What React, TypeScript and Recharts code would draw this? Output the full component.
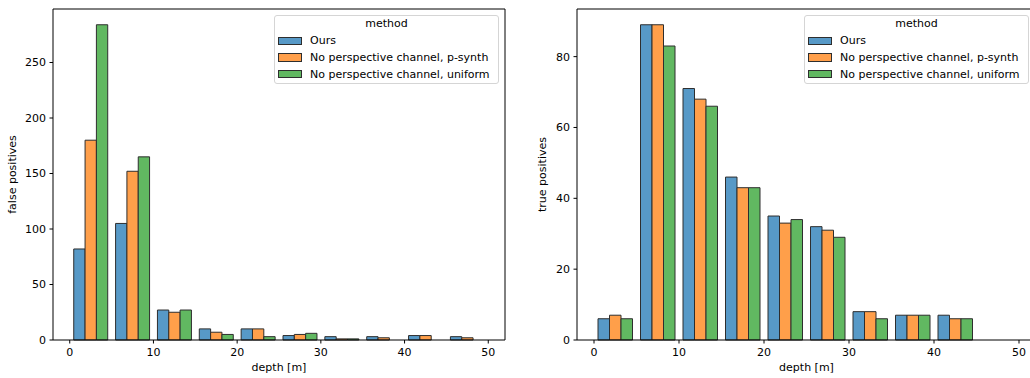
import React from "react";
import { ComposedChart, Bar, XAxis, YAxis, Legend } from "recharts";

const depthBins = [2.5, 7.5, 12.5, 17.5, 22.5, 27.5, 32.5, 37.5, 42.5, 47.5];
const methods = [
  "Ours",
  "No perspective channel, p-synth",
  "No perspective channel, uniform",
];

const fpOurs = [82, 105, 27, 10, 10, 4, 3, 3, 4, 3];
const fpPsynth = [180, 152, 25, 7, 10, 5, 1, 2, 4, 2];
const fpUniform = [284, 165, 27, 5, 3, 6, 1, 0, 0, 0];

const tpOurs = [6, 89, 71, 46, 35, 32, 8, 7, 7, 0];
const tpPsynth = [7, 89, 68, 43, 33, 31, 8, 7, 6, 0];
const tpUniform = [6, 83, 66, 43, 34, 29, 6, 7, 6, 0];

const xTicks = [0, 10, 20, 30, 40, 50];
const fpTicks = [0, 50, 100, 150, 200, 250];
const tpTicks = [0, 20, 40, 60, 80];

const COLORS = ["#5799c7", "#ff9f4a", "#61b861"];
const EDGE = "#2e2e2e";
const FONT = "DejaVu Sans, sans-serif";
const X_DOMAIN: [number, number] = [-2, 52];
const GROUP_WIDTH = 4.06; // depth units covered by one dodge group

function MethodLegend() {
  return (
    <div
      style={{
        boxSizing: "border-box",
        width: 225,
        height: 69,
        border: "1px solid #d5d5d5",
        borderRadius: 3,
        background: "rgba(255,255,255,0.8)",
        fontFamily: FONT,
        fontSize: 11,
        color: "#000",
      }}
    >
      <div style={{ height: 16.6, lineHeight: "16.6px", textAlign: "center" }}>
        method
      </div>
      {methods.map((m, i) => (
        <div
          key={m}
          style={{
            height: 16.6,
            display: "flex",
            alignItems: "center",
            paddingLeft: 3,
          }}
        >
          <span
            style={{
              boxSizing: "border-box",
              width: 24,
              height: 8.5,
              background: COLORS[i],
              border: `1px solid ${EDGE}`,
              marginRight: 8,
              flex: "none",
            }}
          />
          <span style={{ whiteSpace: "nowrap" }}>{m}</span>
        </div>
      ))}
    </div>
  );
}

interface PanelProps {
  series: number[][];
  yTicks: number[];
  yMax: number;
  yLabel: string;
  left: number;
  width: number;
  yAxisWidth: number;
  marginRight: number;
  legendLeft: number;
  labelGap: number;
}

function Panel({
  series,
  yTicks,
  yMax,
  yLabel,
  left,
  width,
  yAxisWidth,
  marginRight,
  legendLeft,
  labelGap,
}: PanelProps) {
  const data = depthBins.map((d, i) => ({
    depth: d,
    a: series[0][i],
    b: series[1][i],
    c: series[2][i],
  }));
  // 1px each for the top / right frame axes
  const plotWidth = width - yAxisWidth - marginRight - 1;
  const barSize =
    ((plotWidth / (X_DOMAIN[1] - X_DOMAIN[0])) * GROUP_WIDTH) / 3;

  const tick = { fontSize: 11, fill: "#000", fontFamily: FONT };

  const yLabelContent = (props: any) => {
    const vb = props.viewBox || {};
    const x = vb.x + vb.width - labelGap;
    const y = vb.y + vb.height / 2;
    return (
      <text
        x={x}
        y={y}
        transform={`rotate(-90 ${x} ${y})`}
        textAnchor="middle"
        fontSize={11}
        fontFamily={FONT}
        fill="#000"
      >
        {yLabel}
      </text>
    );
  };

  const xLabelContent = (props: any) => {
    const vb = props.viewBox || {};
    return (
      <text
        x={vb.x + vb.width / 2}
        y={vb.y + 31}
        textAnchor="middle"
        fontSize={11}
        fontFamily={FONT}
        fill="#000"
      >
        depth [m]
      </text>
    );
  };

  return (
    <div style={{ position: "absolute", left, top: 0 }}>
      <ComposedChart
        width={width}
        height={378}
        data={data}
        barGap={0}
        margin={{ top: 8, right: marginRight, bottom: 0, left: 0 }}
        style={{ fontFamily: FONT }}
      >
        <XAxis
          type="number"
          dataKey="depth"
          domain={X_DOMAIN}
          ticks={xTicks}
          interval={0}
          height={38}
          tick={tick}
          tickSize={3.5}
          tickMargin={5}
          axisLine={{ stroke: "#000" }}
          tickLine={{ stroke: "#000" }}
          label={{ content: xLabelContent }}
        />
        <XAxis
          xAxisId="top"
          orientation="top"
          type="number"
          dataKey="depth"
          domain={X_DOMAIN}
          height={1}
          tick={false}
          tickLine={false}
          axisLine={{ stroke: "#000" }}
        />
        <YAxis
          type="number"
          domain={[0, yMax]}
          ticks={yTicks}
          interval={0}
          width={yAxisWidth}
          tick={tick}
          tickSize={3.5}
          tickMargin={3.5}
          axisLine={{ stroke: "#000" }}
          tickLine={{ stroke: "#000" }}
          label={{ content: yLabelContent }}
        />
        <YAxis
          yAxisId="right"
          orientation="right"
          domain={[0, yMax]}
          width={1}
          tick={false}
          tickLine={false}
          axisLine={{ stroke: "#000" }}
        />
        {["a", "b", "c"].map((k, i) => (
          <Bar
            key={k}
            dataKey={k}
            name={methods[i]}
            fill={COLORS[i]}
            stroke={EDGE}
            strokeWidth={1}
            barSize={barSize}
            isAnimationActive={false}
          />
        ))}
        <Legend
          layout="vertical"
          align="center"
          verticalAlign="middle"
          content={() => <MethodLegend />}
          wrapperStyle={{ left: legendLeft, top: 15, width: 225, height: 69 }}
        />
      </ComposedChart>
    </div>
  );
}

export default function App() {
  return (
    <div
      style={{
        position: "fixed",
        left: 0,
        top: 0,
        width: 1030,
        height: 378,
        overflow: "hidden",
        background: "#fff",
      }}
    >
      <Panel
        series={[fpOurs, fpPsynth, fpUniform]}
        yTicks={fpTicks}
        yMax={298.2}
        yLabel="false positives"
        left={0}
        width={520}
        yAxisWidth={53}
        marginRight={14}
        legendLeft={274}
        labelGap={37}
      />
      <Panel
        series={[tpOurs, tpPsynth, tpUniform]}
        yTicks={tpTicks}
        yMax={93.45}
        yLabel="true positives"
        left={520}
        width={530}
        yAxisWidth={57}
        marginRight={13}
        legendLeft={284}
        labelGap={31}
      />
    </div>
  );
}
